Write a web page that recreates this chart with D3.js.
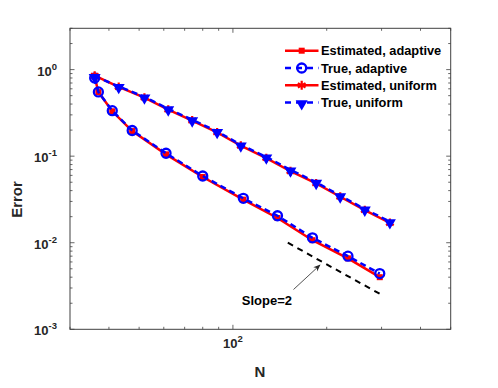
<!DOCTYPE html>
<html>
<head>
<meta charset="utf-8">
<script src="https://cdn.jsdelivr.net/npm/d3@7"></script>
<style>
  body { margin: 0; background: #fff; }
  text { font-family: "Liberation Sans", Arial, sans-serif; font-weight: bold; }
</style>
</head>
<body>
<svg id="chart"></svg>
<script>
// data
let nAdaptive = [36, 37, 41, 47.5, 61, 80, 108, 139, 180, 234, 296];
let estAdaptive = [0.82, 0.55, 0.33, 0.195, 0.105, 0.0575, 0.0315, 0.0193, 0.0107, 0.0066, 0.0040];
let trueAdaptive = [0.80, 0.552, 0.335, 0.198, 0.108, 0.059, 0.0326, 0.0205, 0.0114, 0.0070, 0.0044];

let nUniform = [36, 43, 52, 62, 74, 89, 106, 128, 153, 185, 221, 265, 319];
let estUniform = [0.85, 0.63, 0.475, 0.345, 0.258, 0.188, 0.132, 0.095, 0.067, 0.0485, 0.034, 0.0238, 0.0169];
let trueUniform = [0.836, 0.64, 0.483, 0.353, 0.263, 0.193, 0.135, 0.098, 0.0694, 0.050, 0.0349, 0.0245, 0.0175];

let slopeN = [150, 300];
let slopeErr = [0.01, 0.0025];

let yTickExp = [0, -1, -2, -3];
let xTickExp = [2];

let legendLabels = ["Estimated, adaptive", "True, adaptive", "Estimated, uniform", "True, uniform"];

//svg spec
let width = 498;
let height = 388;
let box = {left: 70, right: 450.7, top: 28.3, bottom: 329.3};

const svg = d3.select("#chart").attr("width", width).attr("height", height);

const x = d3.scaleLog().domain([30, 500]).range([box.left, box.right]);
const y = d3.scaleLog().domain([1e-3, 3]).range([box.bottom, box.top]);

// ticks on all four sides, pointing in
function tickVals(scale) {
    return scale.ticks().filter(v => v >= scale.domain()[0] && v <= scale.domain()[1]);
}
const xt = tickVals(x), yt = tickVals(y);
const isMajor = v => Math.abs(Math.log10(v) - Math.round(Math.log10(v))) < 1e-9;

const axisCol = "#404040";
const ticks = svg.append("g").attr("stroke", axisCol).attr("stroke-width", 0.8);
xt.forEach(v => {
    const len = isMajor(v) ? 4.5 : 2.5;
    ticks.append("line").attr("x1", x(v)).attr("x2", x(v)).attr("y1", box.bottom).attr("y2", box.bottom - len);
    ticks.append("line").attr("x1", x(v)).attr("x2", x(v)).attr("y1", box.top).attr("y2", box.top + len);
});
yt.forEach(v => {
    const len = isMajor(v) ? 4.5 : 2.5;
    ticks.append("line").attr("y1", y(v)).attr("y2", y(v)).attr("x1", box.left).attr("x2", box.left + len);
    ticks.append("line").attr("y1", y(v)).attr("y2", y(v)).attr("x1", box.right).attr("x2", box.right - len);
});

svg.append("rect")
    .attr("x", box.left).attr("y", box.top)
    .attr("width", box.right - box.left).attr("height", box.bottom - box.top)
    .attr("fill", "none").attr("stroke", axisCol).attr("stroke-width", 1);

// tick labels
yTickExp.forEach(e => {
    const t = svg.append("text")
        .attr("x", box.left - 13).attr("y", y(Math.pow(10, e)) + 6)
        .attr("text-anchor", "end").attr("font-size", 13).attr("fill", "#262626");
    t.append("tspan").text("10");
    t.append("tspan").attr("dy", -6).attr("font-size", 9.5).text(e);
});
xTickExp.forEach(e => {
    const t = svg.append("text")
        .attr("x", x(Math.pow(10, e))).attr("y", 347.5)
        .attr("text-anchor", "middle").attr("font-size", 13).attr("fill", "#262626");
    t.append("tspan").text("10");
    t.append("tspan").attr("dy", -6).attr("font-size", 9.5).text(e);
});

svg.append("text").attr("x", 260).attr("y", 377).attr("text-anchor", "middle")
    .attr("font-size", 15).attr("fill", "#262626").text("N");
svg.append("text").attr("transform", `translate(22, ${y(0.0316)}) rotate(-90)`)
    .attr("text-anchor", "middle").attr("font-size", 15).attr("fill", "#262626").text("Error");

// series
const line = d3.line().x(d => x(d[0])).y(d => y(d[1]));
const zip = (a, b) => a.map((v, i) => [v, b[i]]);

const series = [
    {n: nAdaptive, e: estAdaptive, color: "#ff0000", dash: null, marker: "square"},
    {n: nAdaptive, e: trueAdaptive, color: "#0000ff", dash: "6,4", marker: "circle"},
    {n: nUniform, e: estUniform, color: "#ff0000", dash: null, marker: "star"},
    {n: nUniform, e: trueUniform, color: "#0000ff", dash: "6,4", marker: "triangle"}
];

function drawMarker(g, kind, color, cx, cy) {
    if (kind === "square") {
        g.append("rect").attr("x", cx - 3).attr("y", cy - 3).attr("width", 6).attr("height", 6).attr("fill", color);
    } else if (kind === "circle") {
        g.append("circle").attr("cx", cx).attr("cy", cy).attr("r", 4.5)
            .attr("fill", "none").attr("stroke", color).attr("stroke-width", 2.3);
    } else if (kind === "star") {
        g.append("path").attr("transform", `translate(${cx},${cy})`)
            .attr("d", d3.symbol(d3.symbolAsterisk, 55)())
            .attr("fill", "none").attr("stroke", color).attr("stroke-width", 2.2);
    } else if (kind === "triangle") {
        g.append("path").attr("transform", `translate(${cx},${cy + 1}) rotate(180)`)
            .attr("d", d3.symbol(d3.symbolTriangle, 62)())
            .attr("fill", color);
    }
}

series.forEach(s => {
    const data = zip(s.n, s.e);
    const g = svg.append("g");
    g.append("path").datum(data).attr("d", line)
        .attr("fill", "none").attr("stroke", s.color).attr("stroke-width", 2.5)
        .attr("stroke-dasharray", s.dash);
    data.forEach(d => drawMarker(g, s.marker, s.color, x(d[0]), y(d[1])));
});

// slope reference line
svg.append("path").datum(zip(slopeN, slopeErr)).attr("d", line)
    .attr("fill", "none").attr("stroke", "#000").attr("stroke-width", 2)
    .attr("stroke-dasharray", "6,5");

svg.append("defs").append("marker").attr("id", "arrow")
    .attr("viewBox", "0 0 10 10").attr("refX", 9).attr("refY", 5)
    .attr("markerWidth", 9).attr("markerHeight", 9).attr("orient", "auto")
    .append("path").attr("d", "M0,1 L10,5 L0,9 L3,5 Z").attr("fill", "#262626");
svg.append("line").attr("x1", 293.5).attr("y1", 289.5).attr("x2", 320).attr("y2", 265)
    .attr("stroke", "#262626").attr("stroke-width", 0.8).attr("marker-end", "url(#arrow)");
svg.append("text").attr("x", 292).attr("y", 305).attr("text-anchor", "end")
    .attr("font-size", 13).attr("fill", "#000").text("Slope=2");

// legend
const legend = svg.append("g");
series.forEach((s, i) => {
    const ly = 50.7 + i * 17.3;
    legend.append("line").attr("x1", 285).attr("x2", 318.5).attr("y1", ly).attr("y2", ly)
        .attr("stroke", s.color).attr("stroke-width", 2.5).attr("stroke-dasharray", s.dash ? "6,5" : null);
    drawMarker(legend, s.marker, s.color, 301.7, ly);
    legend.append("text").attr("x", 321).attr("y", ly + 4.5)
        .attr("font-size", 12.8).attr("fill", "#000").text(legendLabels[i]);
});
</script>
</body>
</html>
